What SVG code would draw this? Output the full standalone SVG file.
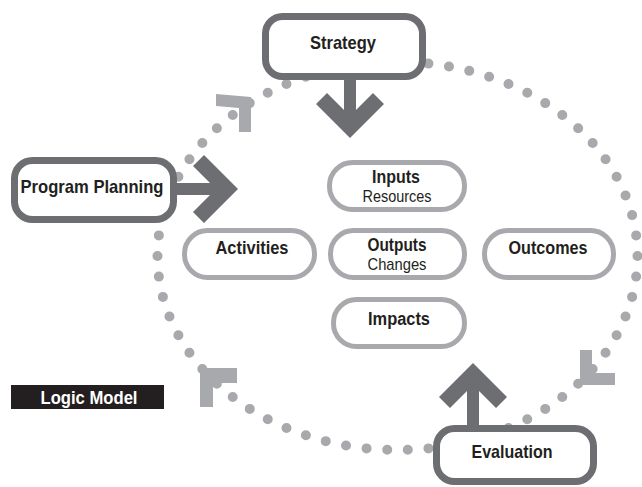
<svg xmlns="http://www.w3.org/2000/svg" width="642" height="487" viewBox="0 0 642 487">
  <style>
    .lbl { font-family: "Liberation Sans Narrow", "Liberation Sans", Arial, sans-serif; font-weight: bold; fill: #231f20; text-anchor: middle; }
    .sub { font-family: "Liberation Sans Narrow", "Liberation Sans", Arial, sans-serif; font-weight: normal; fill: #231f20; text-anchor: middle; }
    .outer { fill: #ffffff; stroke: #6d6e71; stroke-width: 7; }
    .inner { fill: #ffffff; stroke: #a7a9ac; stroke-width: 5; }
    .arrow { fill: #6d6e71; }
    .mark { fill: #a7a9ac; }
  </style>
  <rect width="642" height="487" fill="#ffffff"/>

  <!-- dotted cycle ring -->
  <g id="ring">
    <ellipse cx="397.5" cy="256" rx="240" ry="194" fill="none" stroke="#a7a9ac" stroke-width="10" stroke-linecap="round" stroke-dasharray="0 1" pathLength="66"/>
    <!-- corner direction marks -->
    <polygon class="mark" points="216,94 251,97 251,132 239,132 239,108 216,106"/>
    <polygon class="mark" points="200,368 237,368 237,383 213,383 213,407 200,407"/>
    <polygon class="mark" points="580,350 592,350 592,373 615,373 615,385 580,385"/>
  </g>

  <!-- connectors -->
  <g id="connectors">
    <!-- Strategy down -->
    <rect class="arrow" x="344" y="78" width="12" height="40"/>
    <polygon class="arrow" points="350,138 316,104 327,93 350,116 373,93 384,104"/>
    <!-- Program Planning right -->
    <rect class="arrow" x="176" y="183" width="42" height="12"/>
    <polygon class="arrow" points="238,189 204,155 193,166 216,189 193,212 204,223"/>
    <!-- Evaluation up -->
    <rect class="arrow" x="467" y="383" width="12" height="44"/>
    <polygon class="arrow" points="473,363 439,397 450,408 473,385 496,408 507,397"/>
  </g>

  <g id="strategy">
    <rect class="outer" x="265.5" y="16.5" width="157" height="60" rx="17"/>
    <text class="lbl" x="343" y="49" font-size="19" textLength="66" lengthAdjust="spacingAndGlyphs">Strategy</text>
  </g>

  <g id="program-planning">
    <rect class="outer" x="14.5" y="160.5" width="159" height="59" rx="18"/>
    <text class="lbl" x="92" y="193" font-size="19" textLength="143" lengthAdjust="spacingAndGlyphs">Program Planning</text>
  </g>

  <g id="evaluation">
    <rect class="outer" x="436.5" y="428.5" width="157" height="53" rx="18"/>
    <text class="lbl" x="512" y="458" font-size="19" textLength="81" lengthAdjust="spacingAndGlyphs">Evaluation</text>
  </g>

  <g id="inputs">
    <rect class="inner" x="329.5" y="162.5" width="135" height="47" rx="23"/>
    <text class="lbl" x="396" y="183" font-size="18" textLength="48" lengthAdjust="spacingAndGlyphs">Inputs</text>
    <text class="sub" x="397" y="202" font-size="17" textLength="69" lengthAdjust="spacingAndGlyphs">Resources</text>
  </g>

  <g id="activities">
    <rect class="inner" x="184.5" y="230.5" width="130" height="47" rx="23"/>
    <text class="lbl" x="252" y="254" font-size="18" textLength="73" lengthAdjust="spacingAndGlyphs">Activities</text>
  </g>

  <g id="outputs">
    <rect class="inner" x="330.5" y="230.5" width="134" height="47" rx="23"/>
    <text class="lbl" x="397" y="251" font-size="18" textLength="59" lengthAdjust="spacingAndGlyphs">Outputs</text>
    <text class="sub" x="397" y="270" font-size="17" textLength="59" lengthAdjust="spacingAndGlyphs">Changes</text>
  </g>

  <g id="outcomes">
    <rect class="inner" x="484.5" y="230.5" width="129" height="47" rx="23"/>
    <text class="lbl" x="548" y="254" font-size="18" textLength="79" lengthAdjust="spacingAndGlyphs">Outcomes</text>
  </g>

  <g id="impacts">
    <rect class="inner" x="333.5" y="299.5" width="131" height="47" rx="23"/>
    <text class="lbl" x="399" y="325" font-size="18" textLength="62" lengthAdjust="spacingAndGlyphs">Impacts</text>
  </g>

  <g id="logic-model">
    <rect x="11" y="385" width="153" height="24" fill="#231f20"/>
    <text class="lbl" x="89" y="404" font-size="18" style="fill:#ffffff" textLength="97" lengthAdjust="spacingAndGlyphs">Logic Model</text>
  </g>
</svg>
